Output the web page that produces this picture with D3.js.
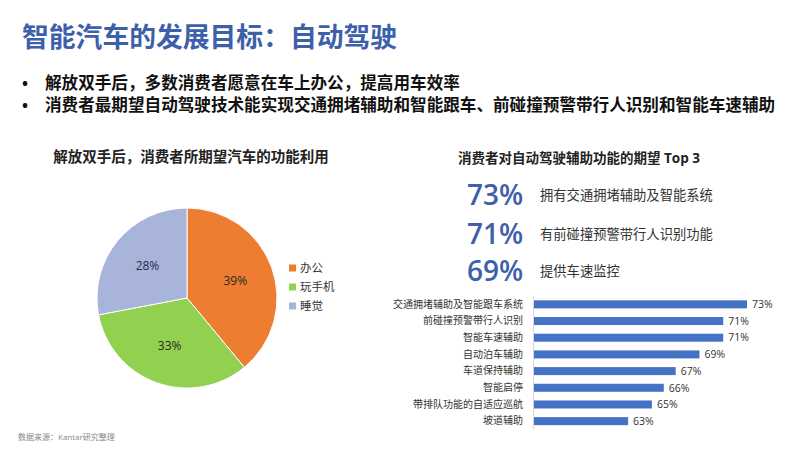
<!DOCTYPE html>
<html>
<head>
<meta charset="utf-8">
<script src="https://cdn.jsdelivr.net/npm/d3@7"></script>
<style>
  html, body { margin: 0; padding: 0; background: #fff; }
  svg text { font-family: 'Open Sans', 'Noto Sans CJK SC', sans-serif; }
</style>
</head>
<body>
<div id="chart"></div>
<script>
'use strict';

// data
var pageTitle = '智能汽车的发展目标：自动驾驶';
var bullets = [
  '解放双手后，多数消费者愿意在车上办公，提高用车效率',
  '消费者最期望自动驾驶技术能实现交通拥堵辅助和智能跟车、前碰撞预警带行人识别和智能车速辅助'
];
var pieTitle = '解放双手后，消费者所期望汽车的功能利用';
var pieLabels = ['办公', '玩手机', '睡觉'];
var pieValues = [39, 33, 28];
var pieColors = ['#ED7D31', '#92D050', '#A8B4DA'];

var topTitle = '消费者对自动驾驶辅助功能的期望 Top 3';
var topValues = [73, 71, 69];
var topTexts = ['拥有交通拥堵辅助及智能系统', '有前碰撞预警带行人识别功能', '提供车速监控'];

var barCategories = ['交通拥堵辅助及智能跟车系统', '前碰撞预警带行人识别', '智能车速辅助', '自动泊车辅助',
  '车道保持辅助', '智能启停', '带排队功能的自适应巡航', '坡道辅助'];
var barValues = [73, 71, 71, 69, 67, 66, 65, 63];

var source = '数据来源：Kantar研究整理';

var width = 800;
var height = 450;
var blue = '#3E5FAA';

var svg = d3.select('#chart').append('svg')
  .attr('width', width)
  .attr('height', height);

// header
svg.append('text')
  .attr('x', 22).attr('y', 47)
  .style('font-size', '26.8px').style('font-weight', 'bold')
  .style('fill', blue)
  .text(pageTitle);

var bl = svg.append('g').selectAll('g')
  .data(bullets).enter().append('g')
  .attr('transform', function(d, i){ return 'translate(0,' + (89 + i * 22) + ')'; });
bl.append('text').attr('x', 22)
  .style('font-size', '16px').style('font-weight', 'bold').style('fill', '#111')
  .text('•');
bl.append('text').attr('x', 45)
  .style('font-size', '16.6px').style('font-weight', 'bold').style('fill', '#111')
  .text(function(d){ return d; });

// pie
svg.append('text')
  .attr('x', 191).attr('y', 162)
  .attr('text-anchor', 'middle')
  .style('font-size', '14.5px').style('font-weight', 'bold').style('fill', '#222')
  .text(pieTitle);

var r = 90;
var pieG = svg.append('g').attr('transform', 'translate(187,298)');
var arcs = d3.pie().sort(null)(pieValues);
var arc = d3.arc().innerRadius(0).outerRadius(r);
var labelArc = d3.arc().innerRadius(r * 0.57).outerRadius(r * 0.57);

pieG.selectAll('path')
  .data(arcs).enter().append('path')
  .attr('d', arc)
  .style('fill', function(d, i){ return pieColors[i]; })
  .style('stroke', '#fff')
  .style('stroke-width', 1);

pieG.selectAll('text')
  .data(arcs).enter().append('text')
  .attr('transform', function(d){ return 'translate(' + labelArc.centroid(d) + ')'; })
  .attr('text-anchor', 'middle')
  .attr('dy', '0.35em')
  .style('font-size', '12px')
  .style('fill', function(d, i){ return i === 2 ? '#1F2D4D' : '#2A2A2A'; })
  .text(function(d){ return d.value + '%'; });

var legend = svg.append('g').selectAll('g')
  .data(pieLabels).enter().append('g')
  .attr('transform', function(d, i){ return 'translate(289,' + (268 + i * 19) + ')'; });
legend.append('rect')
  .attr('x', 0).attr('y', -3.5).attr('width', 7).attr('height', 7)
  .style('fill', function(d, i){ return pieColors[i]; });
legend.append('text')
  .attr('x', 11).attr('dy', '0.36em')
  .style('font-size', '11.5px').style('fill', '#333')
  .text(function(d){ return d; });

// top 3
svg.append('text')
  .attr('x', 458).attr('y', 163)
  .style('font-size', '13.5px').style('font-weight', 'bold').style('fill', '#222')
  .text(topTitle);

var topY = [195, 234, 271];
var topG = svg.append('g').selectAll('g')
  .data(topValues).enter().append('g')
  .attr('transform', function(d, i){ return 'translate(0,' + topY[i] + ')'; });
topG.append('text')
  .attr('x', 467).attr('y', 10)
  .style('font-size', '28px').style('font-weight', 600).style('fill', blue)
  .text(function(d){ return d + '%'; });
topG.append('text')
  .attr('x', 540).attr('y', 5)
  .style('font-size', '13.3px').style('fill', '#333')
  .text(function(d, i){ return topTexts[i]; });

// bars
var x = d3.scaleLinear().domain([55, 73]).range([533, 747]);
var y = d3.scaleBand().domain(barCategories).range([296, 429.5]).paddingInner(0.52).paddingOuter(0.26);

var barG = svg.append('g');
barG.selectAll('rect')
  .data(barValues).enter().append('rect')
  .attr('x', x(55))
  .attr('y', function(d, i){ return y(barCategories[i]); })
  .attr('width', function(d){ return x(d) - x(55); })
  .attr('height', y.bandwidth())
  .style('fill', '#4472C4');

barG.selectAll('text.val')
  .data(barValues).enter().append('text')
  .attr('class', 'val')
  .attr('x', function(d){ return x(d) + 5; })
  .attr('y', function(d, i){ return y(barCategories[i]) + y.bandwidth() / 2; })
  .attr('dy', '0.36em')
  .style('font-size', '10.5px').style('fill', '#333')
  .text(function(d){ return d + '%'; });

var yAxis = svg.append('g')
  .attr('transform', 'translate(' + x(55) + ',0)')
  .call(d3.axisLeft(y).tickSize(0).tickPadding(10));
yAxis.select('.domain').attr('stroke', '#D9D9D9');
yAxis.selectAll('text')
  .style('font-size', '10px').style('fill', '#333')
  .style('font-family', "'Open Sans','Noto Sans CJK SC',sans-serif");

// footer
svg.append('text')
  .attr('x', 18).attr('y', 440)
  .style('font-size', '8px').style('fill', '#888')
  .text(source);
</script>
</body>
</html>
